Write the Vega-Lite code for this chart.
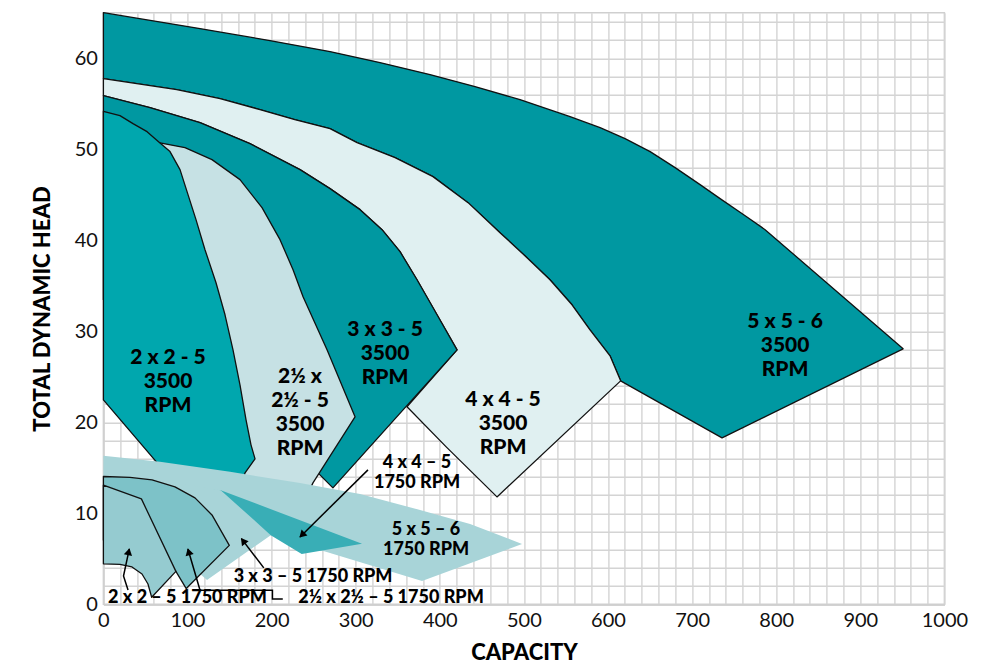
{
  "$schema": "https://vega.github.io/schema/vega-lite/v6.json",
  "width": 841,
  "height": 591.6,
  "autosize": {"type": "none"},
  "padding": {"left": 103.4, "top": 12.7, "right": 42.6, "bottom": 63.7},
  "background": "white",
  "config": {
    "view": {"stroke": "#cfcfcf", "strokeWidth": 1.5},
    "axis": {
      "grid": true, "gridColor": "#d4d4d4", "gridWidth": 1.4,
      "ticks": false, "domainColor": "#cfcfcf", "domainWidth": 1.5,
      "labelFont": "Lato", "labelFontSize": 20, "labelColor": "#111111",
      "labelPadding": 6, "labelOverlap": false, "labelFlush": false,
      "titleFont": "Lato", "titleFontSize": 22, "titleFontWeight": 900, "titleColor": "#000000"
    }
  },
  "datasets": {
    "shapes": [
      {"s":"A","i":1,"x":0,"y":65},
      {"s":"A","i":2,"x":114.9,"y":63.26},
      {"s":"A","i":3,"x":198.1,"y":61.94},
      {"s":"A","i":4,"x":269.5,"y":60.73},
      {"s":"A","i":5,"x":328.9,"y":59.52},
      {"s":"A","i":6,"x":388.4,"y":58.2},
      {"s":"A","i":7,"x":441.9,"y":56.88},
      {"s":"A","i":8,"x":495.4,"y":55.45},
      {"s":"A","i":9,"x":554.9,"y":53.58},
      {"s":"A","i":10,"x":590.6,"y":52.37},
      {"s":"A","i":11,"x":620.3,"y":51.16},
      {"s":"A","i":12,"x":650.1,"y":49.74},
      {"s":"A","i":13,"x":679.8,"y":47.98},
      {"s":"A","i":14,"x":709.5,"y":46.11},
      {"s":"A","i":15,"x":733.3,"y":44.57},
      {"s":"A","i":16,"x":763.1,"y":42.7},
      {"s":"A","i":17,"x":786.8,"y":41.16},
      {"s":"A","i":18,"x":950.9,"y":28.07},
      {"s":"A","i":19,"x":735.6,"y":18.29},
      {"s":"A","i":20,"x":615.0,"y":24.55},
      {"s":"A","i":21,"x":602.4,"y":27.3},
      {"s":"A","i":22,"x":578.6,"y":30.16},
      {"s":"A","i":23,"x":557.2,"y":32.91},
      {"s":"A","i":24,"x":531.0,"y":35.66},
      {"s":"A","i":25,"x":503.7,"y":38.08},
      {"s":"A","i":26,"x":471.6,"y":40.83},
      {"s":"A","i":27,"x":433.6,"y":44.13},
      {"s":"A","i":28,"x":391.9,"y":46.99},
      {"s":"A","i":29,"x":346.8,"y":49.07},
      {"s":"A","i":30,"x":301.6,"y":50.73},
      {"s":"A","i":31,"x":269.5,"y":52.26},
      {"s":"A","i":32,"x":227.6,"y":53.25},
      {"s":"A","i":33,"x":186.2,"y":54.35},
      {"s":"A","i":34,"x":138.7,"y":55.56},
      {"s":"A","i":35,"x":87.2,"y":56.55},
      {"s":"A","i":36,"x":0,"y":57.76},

      {"s":"B","i":1,"x":0,"y":57.76},
      {"s":"B","i":2,"x":87.2,"y":56.55},
      {"s":"B","i":3,"x":138.7,"y":55.56},
      {"s":"B","i":4,"x":186.2,"y":54.35},
      {"s":"B","i":5,"x":227.6,"y":53.25},
      {"s":"B","i":6,"x":269.5,"y":52.26},
      {"s":"B","i":7,"x":301.6,"y":50.73},
      {"s":"B","i":8,"x":346.8,"y":49.07},
      {"s":"B","i":9,"x":391.9,"y":46.99},
      {"s":"B","i":10,"x":433.6,"y":44.13},
      {"s":"B","i":11,"x":471.6,"y":40.83},
      {"s":"B","i":12,"x":503.7,"y":38.08},
      {"s":"B","i":13,"x":531.0,"y":35.66},
      {"s":"B","i":14,"x":557.2,"y":32.91},
      {"s":"B","i":15,"x":578.6,"y":30.16},
      {"s":"B","i":16,"x":602.4,"y":27.3},
      {"s":"B","i":17,"x":615.0,"y":24.55},
      {"s":"B","i":18,"x":468.0,"y":11.8},
      {"s":"B","i":19,"x":407.6,"y":17.3},
      {"s":"B","i":20,"x":361.0,"y":21.7},
      {"s":"B","i":21,"x":420.5,"y":27.96},
      {"s":"B","i":22,"x":396.7,"y":31.81},
      {"s":"B","i":23,"x":372.9,"y":35.66},
      {"s":"B","i":24,"x":352.7,"y":38.74},
      {"s":"B","i":25,"x":331.3,"y":41.16},
      {"s":"B","i":26,"x":305.2,"y":43.36},
      {"s":"B","i":27,"x":269.5,"y":45.67},
      {"s":"B","i":28,"x":233.8,"y":47.76},
      {"s":"B","i":29,"x":174.3,"y":50.61},
      {"s":"B","i":30,"x":114.9,"y":52.92},
      {"s":"B","i":31,"x":55.4,"y":54.57},
      {"s":"B","i":32,"x":0,"y":55.89},

      {"s":"C","i":1,"x":0,"y":55.89},
      {"s":"C","i":2,"x":55.4,"y":54.57},
      {"s":"C","i":3,"x":114.9,"y":52.92},
      {"s":"C","i":4,"x":174.3,"y":50.61},
      {"s":"C","i":5,"x":233.8,"y":47.76},
      {"s":"C","i":6,"x":269.5,"y":45.67},
      {"s":"C","i":7,"x":305.2,"y":43.36},
      {"s":"C","i":8,"x":331.3,"y":41.16},
      {"s":"C","i":9,"x":352.7,"y":38.74},
      {"s":"C","i":10,"x":372.9,"y":35.66},
      {"s":"C","i":11,"x":396.7,"y":31.81},
      {"s":"C","i":12,"x":420.5,"y":27.96},
      {"s":"C","i":13,"x":272.9,"y":12.79},
      {"s":"C","i":14,"x":255.1,"y":14.44},
      {"s":"C","i":15,"x":198.1,"y":18.07},
      {"s":"C","i":16,"x":0,"y":33.46},

      {"s":"D","i":1,"x":67.3,"y":50.69},
      {"s":"D","i":2,"x":97.0,"y":50.17},
      {"s":"D","i":3,"x":129.1,"y":48.86},
      {"s":"D","i":4,"x":162.4,"y":46.66},
      {"s":"D","i":5,"x":188.6,"y":43.58},
      {"s":"D","i":6,"x":210.0,"y":40.06},
      {"s":"D","i":7,"x":225.5,"y":36.76},
      {"s":"D","i":8,"x":237.4,"y":33.79},
      {"s":"D","i":9,"x":265.9,"y":27.96},
      {"s":"D","i":10,"x":299.2,"y":20.6},
      {"s":"D","i":11,"x":249.2,"y":13.34},
      {"s":"D","i":12,"x":233.8,"y":10.37},
      {"s":"D","i":13,"x":150.6,"y":11.47},
      {"s":"D","i":14,"x":150.6,"y":15.87},
      {"s":"D","i":15,"x":55.4,"y":33.46},
      {"s":"D","i":16,"x":43.5,"y":49.95},

      {"s":"E","i":1,"x":0,"y":54.17},
      {"s":"E","i":2,"x":19.7,"y":53.69},
      {"s":"E","i":3,"x":35.2,"y":52.81},
      {"s":"E","i":4,"x":51.9,"y":51.93},
      {"s":"E","i":5,"x":67.3,"y":50.69},
      {"s":"E","i":6,"x":79.2,"y":49.74},
      {"s":"E","i":7,"x":91.1,"y":47.76},
      {"s":"E","i":8,"x":100.6,"y":45.01},
      {"s":"E","i":9,"x":110.1,"y":42.26},
      {"s":"E","i":10,"x":120.8,"y":38.96},
      {"s":"E","i":11,"x":133.9,"y":35.33},
      {"s":"E","i":12,"x":144.6,"y":31.81},
      {"s":"E","i":13,"x":154.1,"y":27.96},
      {"s":"E","i":14,"x":162.4,"y":24.11},
      {"s":"E","i":15,"x":169.6,"y":20.27},
      {"s":"E","i":16,"x":175.5,"y":17.52},
      {"s":"E","i":17,"x":180.3,"y":15.98},
      {"s":"E","i":18,"x":168.4,"y":14.44},
      {"s":"E","i":19,"x":162.4,"y":12.57},
      {"s":"E","i":20,"x":79.2,"y":13.89},
      {"s":"E","i":21,"x":0,"y":22.46},

      {"s":"F","i":1,"x":0,"y":16.31},
      {"s":"F","i":2,"x":67.3,"y":15.65},
      {"s":"F","i":3,"x":150.6,"y":14.55},
      {"s":"F","i":4,"x":233.8,"y":13.34},
      {"s":"F","i":5,"x":305.2,"y":12.13},
      {"s":"F","i":6,"x":376.5,"y":10.37},
      {"s":"F","i":7,"x":436.0,"y":8.83},
      {"s":"F","i":8,"x":497.8,"y":6.63},
      {"s":"F","i":9,"x":378.9,"y":2.56},
      {"s":"F","i":10,"x":199.1,"y":7.62},
      {"s":"F","i":11,"x":132.7,"y":5.42},
      {"s":"F","i":12,"x":0,"y":7.07},

      {"s":"G","i":1,"x":85.1,"y":12.79},
      {"s":"G","i":2,"x":139.5,"y":12.54},
      {"s":"G","i":3,"x":307.5,"y":6.65},
      {"s":"G","i":4,"x":235.8,"y":5.52},
      {"s":"G","i":5,"x":199.0,"y":7.6},
      {"s":"G","i":6,"x":114.9,"y":8.72},

      {"s":"H","i":1,"x":0,"y":14.0},
      {"s":"H","i":2,"x":79.2,"y":13.45},
      {"s":"H","i":3,"x":139.5,"y":12.54},
      {"s":"H","i":4,"x":199.0,"y":7.6},
      {"s":"H","i":5,"x":123.2,"y":2.67},
      {"s":"H","i":6,"x":103.0,"y":4.32},
      {"s":"H","i":7,"x":0,"y":8.17},

      {"s":"I","i":1,"x":0,"y":14.04},
      {"s":"I","i":2,"x":31.6,"y":13.94},
      {"s":"I","i":3,"x":57.8,"y":13.67},
      {"s":"I","i":4,"x":85.1,"y":12.9},
      {"s":"I","i":5,"x":108.9,"y":11.69},
      {"s":"I","i":6,"x":129.1,"y":9.82},
      {"s":"I","i":7,"x":149.7,"y":6.47},
      {"s":"I","i":8,"x":98.5,"y":1.73},
      {"s":"I","i":9,"x":86.2,"y":3.62},
      {"s":"I","i":10,"x":67.3,"y":4.87},
      {"s":"I","i":11,"x":0,"y":7.07},

      {"s":"J","i":1,"x":0,"y":13.1},
      {"s":"J","i":2,"x":45.2,"y":11.58},
      {"s":"J","i":3,"x":86.2,"y":3.62},
      {"s":"J","i":4,"x":57.4,"y":0.78},
      {"s":"J","i":5,"x":53.0,"y":2.23},
      {"s":"J","i":6,"x":45.9,"y":3.33},
      {"s":"J","i":7,"x":34.0,"y":4.1},
      {"s":"J","i":8,"x":19.7,"y":4.38},
      {"s":"J","i":9,"x":0,"y":4.45}
    ],
    "arrows": [
      {"a":1,"i":1,"x":314.6,"y":14.77},
      {"a":1,"i":2,"x":233.8,"y":7.4},
      {"a":2,"i":1,"x":190.7,"y":4.0},
      {"a":2,"i":2,"x":164.1,"y":7.22},
      {"a":3,"i":1,"x":29.3,"y":1.57},
      {"a":3,"i":2,"x":23.9,"y":3.11},
      {"a":3,"i":3,"x":30.8,"y":6.08},
      {"a":4,"i":1,"x":213.3,"y":0.58},
      {"a":4,"i":2,"x":201.0,"y":0.58},
      {"a":4,"i":3,"x":201.0,"y":1.54},
      {"a":4,"i":4,"x":114.9,"y":1.54},
      {"a":4,"i":5,"x":100.5,"y":6.08}
    ],
    "heads": [
      {"h":1,"x":237.1,"y":7.71},
      {"h":2,"x":167.0,"y":6.87},
      {"h":3,"x":29.8,"y":5.65},
      {"h":4,"x":101.8,"y":5.66}
    ],
    "bigLabels": [
      {"x":76.8,"y":27.08,"t":"2 x 2 - 5\n3500\nRPM"},
      {"x":233.8,"y":24.99,"t":"2½ x\n2½ - 5\n3500\nRPM"},
      {"x":334.9,"y":30.16,"t":"3 x 3 - 5\n3500\nRPM"},
      {"x":475.2,"y":22.46,"t":"4 x 4 - 5\n3500\nRPM"},
      {"x":810.6,"y":31.04,"t":"5 x 5 - 6\n3500\nRPM"}
    ],
    "smallLabels": [
      {"x":372.9,"y":15.54,"t":"4 x 4 – 5\n1750 RPM"},
      {"x":383.6,"y":8.17,"t":"5 x 5 – 6\n1750 RPM"},
      {"x":249.3,"y":3.0,"t":"3 x 3 – 5 1750 RPM"},
      {"x":100.0,"y":0.65,"t":"2 x 2 – 5 1750 RPM"},
      {"x":342.0,"y":0.65,"t":"2½ x 2½ – 5 1750 RPM"}
    ]
  },
  "encoding": {
    "x": {
      "field": "x", "type": "quantitative",
      "scale": {"domain": [0, 1000], "nice": false, "zero": false},
      "axis": {
        "title": "CAPACITY", "titlePadding": 12, "format": "d",
        "values": [0,20,40,60,80,100,120,140,160,180,200,220,240,260,280,300,320,340,360,380,400,420,440,460,480,500,520,540,560,580,600,620,640,660,680,700,720,740,760,780,800,820,840,860,880,900,920,940,960,980,1000],
        "labelExpr": "datum.value % 100 === 0 ? datum.label : ''"
      }
    },
    "y": {
      "field": "y", "type": "quantitative",
      "scale": {"domain": [0, 65], "nice": false, "zero": false},
      "axis": {
        "title": "TOTAL DYNAMIC HEAD", "titlePadding": 20, "format": "d",
        "values": [0,2,4,6,8,10,12,14,16,18,20,22,24,26,28,30,32,34,36,38,40,42,44,46,48,50,52,54,56,58,60,62,64],
        "labelExpr": "datum.value % 10 === 0 ? datum.label : ''"
      }
    }
  },
  "layer": [
    {"data": {"name": "shapes"}, "transform": [{"filter": "datum.s === 'A'"}],
     "mark": {"type": "line", "interpolate": "linear-closed", "stroke": "#111111", "strokeWidth": 1.3, "strokeJoin": "round"},
     "encoding": {"order": {"field": "i", "type": "quantitative"},
       "fill": {"field": "s", "type": "nominal", "legend": null,
         "scale": {"domain": ["A","B","C","D","E","F","G","H","I","J"], "range": ["#0098a1","#e0f0f1","#0098a1","#c6e1e4","#00a7ae","#a8d4d8","#39aeb6","#a8d4d8","#7dc2c8","#95cbd0"]}}}},
    {"data": {"name": "shapes"}, "transform": [{"filter": "datum.s === 'B'"}],
     "mark": {"type": "line", "interpolate": "linear-closed", "stroke": "#111111", "strokeWidth": 1.3, "strokeJoin": "round"},
     "encoding": {"order": {"field": "i", "type": "quantitative"}, "fill": {"field": "s", "type": "nominal", "legend": null}}},
    {"data": {"name": "shapes"}, "transform": [{"filter": "datum.s === 'C'"}],
     "mark": {"type": "line", "interpolate": "linear-closed", "stroke": "#111111", "strokeWidth": 1.3, "strokeJoin": "round"},
     "encoding": {"order": {"field": "i", "type": "quantitative"}, "fill": {"field": "s", "type": "nominal", "legend": null}}},
    {"data": {"name": "shapes"}, "transform": [{"filter": "datum.s === 'D'"}],
     "mark": {"type": "line", "interpolate": "linear-closed", "stroke": "#111111", "strokeWidth": 1.3, "strokeJoin": "round"},
     "encoding": {"order": {"field": "i", "type": "quantitative"}, "fill": {"field": "s", "type": "nominal", "legend": null}}},
    {"data": {"name": "shapes"}, "transform": [{"filter": "datum.s === 'E'"}],
     "mark": {"type": "line", "interpolate": "linear-closed", "stroke": "#111111", "strokeWidth": 1.3, "strokeJoin": "round"},
     "encoding": {"order": {"field": "i", "type": "quantitative"}, "fill": {"field": "s", "type": "nominal", "legend": null}}},
    {"data": {"name": "shapes"}, "transform": [{"filter": "datum.s === 'F'"}],
     "mark": {"type": "line", "interpolate": "linear-closed", "strokeOpacity": 0},
     "encoding": {"order": {"field": "i", "type": "quantitative"}, "fill": {"field": "s", "type": "nominal", "legend": null}}},
    {"data": {"name": "shapes"}, "transform": [{"filter": "datum.s === 'G'"}],
     "mark": {"type": "line", "interpolate": "linear-closed", "strokeOpacity": 0},
     "encoding": {"order": {"field": "i", "type": "quantitative"}, "fill": {"field": "s", "type": "nominal", "legend": null}}},
    {"data": {"name": "shapes"}, "transform": [{"filter": "datum.s === 'H'"}],
     "mark": {"type": "line", "interpolate": "linear-closed", "strokeOpacity": 0},
     "encoding": {"order": {"field": "i", "type": "quantitative"}, "fill": {"field": "s", "type": "nominal", "legend": null}}},
    {"data": {"name": "shapes"}, "transform": [{"filter": "datum.s === 'I'"}],
     "mark": {"type": "line", "interpolate": "linear-closed", "stroke": "#111111", "strokeWidth": 1.3, "strokeJoin": "round"},
     "encoding": {"order": {"field": "i", "type": "quantitative"}, "fill": {"field": "s", "type": "nominal", "legend": null}}},
    {"data": {"name": "shapes"}, "transform": [{"filter": "datum.s === 'J'"}],
     "mark": {"type": "line", "interpolate": "linear-closed", "stroke": "#111111", "strokeWidth": 1.3, "strokeJoin": "round"},
     "encoding": {"order": {"field": "i", "type": "quantitative"}, "fill": {"field": "s", "type": "nominal", "legend": null}}},
    {"data": {"name": "arrows"},
     "mark": {"type": "line", "stroke": "#000000", "strokeWidth": 1.5},
     "encoding": {"detail": {"field": "a", "type": "nominal"}, "order": {"field": "i", "type": "quantitative"}}},
    {"data": {"name": "heads"}, "transform": [{"filter": "datum.h === 1"}],
     "mark": {"type": "point", "shape": "triangle", "filled": true, "color": "#000000", "opacity": 1, "size": 70, "angle": 225}},
    {"data": {"name": "heads"}, "transform": [{"filter": "datum.h === 2"}],
     "mark": {"type": "point", "shape": "triangle", "filled": true, "color": "#000000", "opacity": 1, "size": 70, "angle": 323}},
    {"data": {"name": "heads"}, "transform": [{"filter": "datum.h === 3"}],
     "mark": {"type": "point", "shape": "triangle", "filled": true, "color": "#000000", "opacity": 1, "size": 70, "angle": 12}},
    {"data": {"name": "heads"}, "transform": [{"filter": "datum.h === 4"}],
     "mark": {"type": "point", "shape": "triangle", "filled": true, "color": "#000000", "opacity": 1, "size": 70, "angle": 344}},
    {"data": {"name": "bigLabels"},
     "mark": {"type": "text", "font": "Lato", "fontSize": 21, "fontWeight": 900, "color": "#000000", "align": "center", "baseline": "middle", "lineBreak": "\n", "lineHeight": 24},
     "encoding": {"text": {"field": "t"}}},
    {"data": {"name": "smallLabels"},
     "mark": {"type": "text", "font": "Lato", "fontSize": 18, "fontWeight": 900, "color": "#000000", "align": "center", "baseline": "middle", "lineBreak": "\n", "lineHeight": 20},
     "encoding": {"text": {"field": "t"}}}
  ]
}
